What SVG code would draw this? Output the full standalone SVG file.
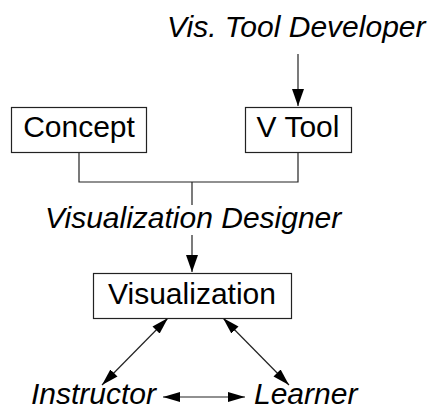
<svg xmlns="http://www.w3.org/2000/svg" width="435" height="410" viewBox="0 0 435 410">
  <style>
    .box { fill: #ffffff; stroke: #222222; stroke-width: 1.2; }
    .lbl { font-family: "Liberation Sans", Arial, Helvetica, sans-serif; font-size: 30px; fill: #000000; }
    .role { font-style: italic; }
    .wire { fill: none; stroke: #222222; stroke-width: 1.2; }
  </style>
  <defs>
    <marker id="head" markerUnits="userSpaceOnUse" markerWidth="18" markerHeight="14" refX="17" refY="6" orient="auto-start-reverse" viewBox="0 0 18 12">
      <path d="M0,0 L17,6 L0,12 Z" fill="#000000"/>
    </marker>
    <marker id="headS" markerUnits="userSpaceOnUse" markerWidth="18" markerHeight="12" refX="17" refY="5" orient="auto-start-reverse" viewBox="0 0 18 10">
      <path d="M0,0 L17,5 L0,10 Z" fill="#000000"/>
    </marker>
  </defs>
  <rect width="435" height="410" fill="#ffffff"/>

  <!-- connectors -->
  <g id="connectors">
    <path class="wire" d="M298,54 V106" marker-end="url(#head)"/>
    <path class="wire" d="M79,152 V182 H298 V152"/>
    <path class="wire" d="M192,182 V205"/>
    <path class="wire" d="M192,235 V272" marker-end="url(#head)"/>
    <path class="wire" d="M168,318 L102,385" marker-start="url(#headS)" marker-end="url(#headS)"/>
    <path class="wire" d="M223,318 L289,385" marker-start="url(#headS)" marker-end="url(#headS)"/>
    <path class="wire" d="M163,397 H245" marker-start="url(#headS)" marker-end="url(#headS)"/>
  </g>

  <!-- nodes -->
  <g id="vis-tool-developer">
    <text class="lbl role" x="167" y="37">Vis. Tool Developer</text>
  </g>
  <g id="concept">
    <rect class="box" x="11.5" y="107.5" width="135" height="45"/>
    <text class="lbl" x="79" y="137" text-anchor="middle">Concept</text>
  </g>
  <g id="v-tool">
    <rect class="box" x="245.5" y="107.5" width="106" height="45"/>
    <text class="lbl" x="298" y="137" text-anchor="middle">V Tool</text>
  </g>
  <g id="visualization-designer">
    <text class="lbl role" x="45" y="228">Visualization Designer</text>
  </g>
  <g id="visualization">
    <rect class="box" x="93.5" y="273.5" width="198" height="45"/>
    <text class="lbl" x="192" y="304" text-anchor="middle">Visualization</text>
  </g>
  <g id="instructor">
    <text class="lbl role" x="31" y="403.5">Instructor</text>
  </g>
  <g id="learner">
    <text class="lbl role" x="254" y="403.5">Learner</text>
  </g>
</svg>
